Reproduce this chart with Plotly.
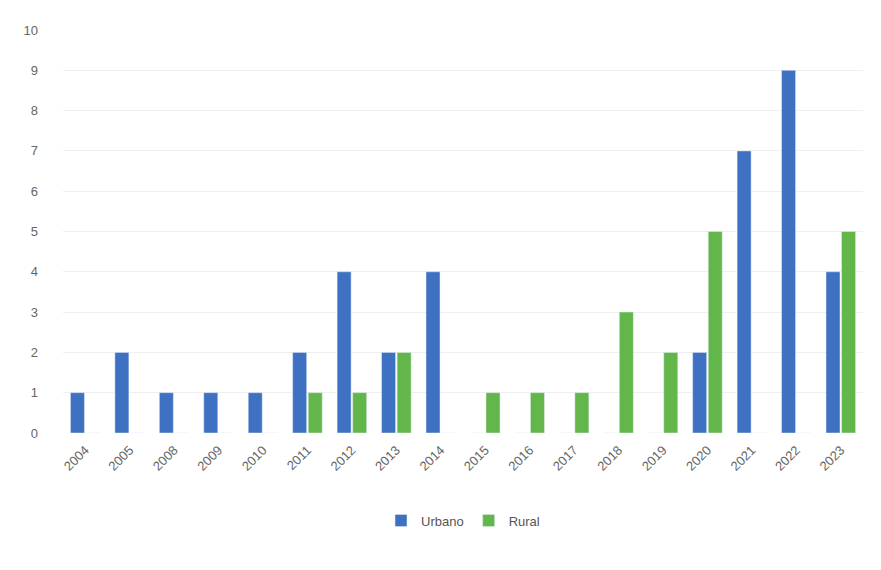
import plotly.graph_objects as go

years = ["2004", "2005", "2008", "2009", "2010", "2011", "2012", "2013", "2014",
         "2015", "2016", "2017", "2018", "2019", "2020", "2021", "2022", "2023"]
urbano = [1, 2, 1, 1, 1, 2, 4, 2, 4, 0, 0, 0, 0, 0, 2, 7, 9, 4]
rural = [0, 0, 0, 0, 0, 1, 1, 2, 0, 1, 1, 1, 3, 2, 5, 0, 0, 5]

fig = go.Figure()
fig.add_trace(go.Bar(x=years, y=urbano, name="Urbano", marker_color="#3E71C1"))
fig.add_trace(go.Bar(x=years, y=rural, name="Rural", marker_color="#62B64A"))

fig.update_layout(
    width=881, height=570,
    margin=dict(l=55, r=26, t=22, b=145),
    plot_bgcolor="white", paper_bgcolor="white",
    barmode="group", bargap=0.30, bargroupgap=0.1,
    font=dict(family="Liberation Sans", size=13, color="#666666"),
    legend=dict(orientation="h", x=0.5, xanchor="center", y=-0.18, yanchor="top",
                itemwidth=30, font=dict(size=13, color="#555555")),
)
fig.update_xaxes(tickangle=-45, showgrid=False, showline=False, ticks="",
                 ticklabelstandoff=6)
fig.update_yaxes(range=[0, 10], dtick=1, showgrid=True, gridcolor="#efefef",
                 zeroline=False, ticks="", ticklabelstandoff=24)

fig.write_html("out.html")
